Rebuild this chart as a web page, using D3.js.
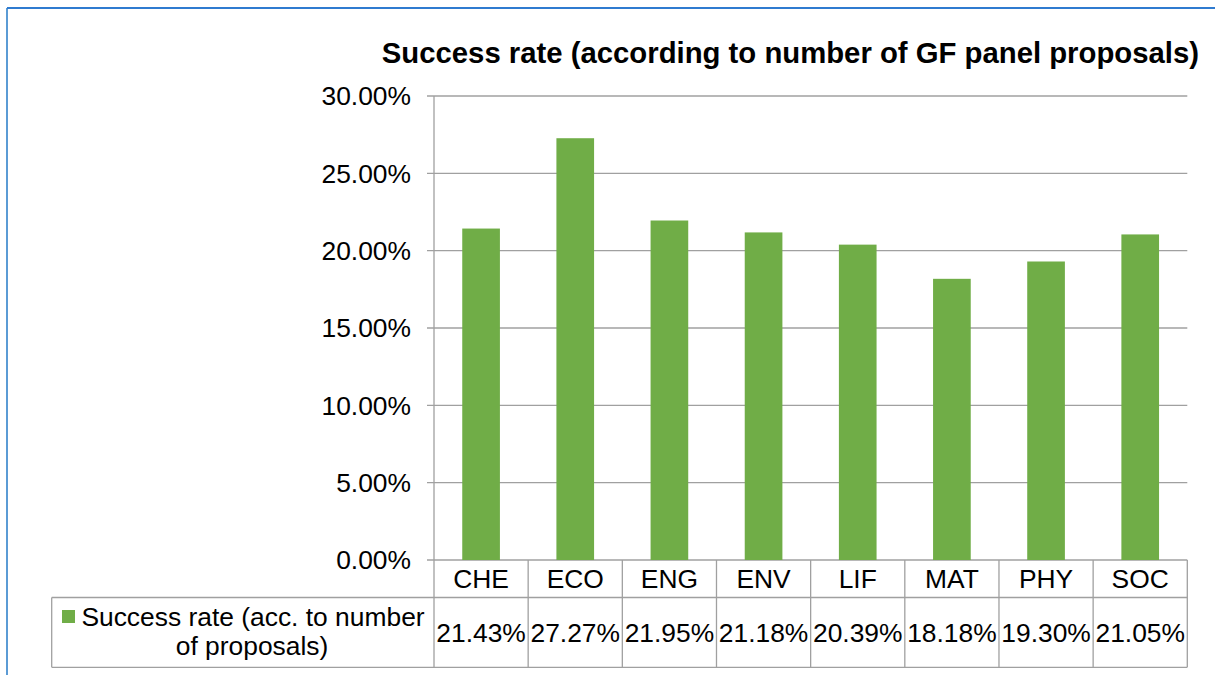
<!DOCTYPE html>
<html><head><meta charset="utf-8">
<script src="https://cdn.jsdelivr.net/npm/d3@7/dist/d3.min.js"></script>
<style>body{margin:0;background:#fff}svg{display:block}text{font-family:"Liberation Sans",Arial,sans-serif}</style>
</head><body>
<svg id="c" width="1215" height="675"></svg>
<script>
const categories = ["CHE","ECO","ENG","ENV","LIF","MAT","PHY","SOC"];
const values = [21.43,27.27,21.95,21.18,20.39,18.18,19.30,21.05];
const valueLabels = ["21.43%","27.27%","21.95%","21.18%","20.39%","18.18%","19.30%","21.05%"];
const yTicks = [0,5,10,15,20,25,30];
const seriesName = ["Success rate (acc. to number","of proposals)"];
const title = "Success rate (according to number of GF panel proposals)";

(function(){
const svg = d3.select("#c");
const W=1215,H=675;
// frame
svg.append("line").attr("x1",7).attr("x2",7).attr("y1",8).attr("y2",H).attr("stroke","#5b9bd5").attr("stroke-width",2);
svg.append("line").attr("x1",7).attr("x2",W).attr("y1",8).attr("y2",8).attr("stroke","#2f7bd0").attr("stroke-width",2);

const pl=434,pr=1187.3,pt=96,pb=560;
const x = d3.scaleBand().domain(categories).range([pl,pr]).paddingInner(0).paddingOuter(0);
const y = d3.scaleLinear().domain([0,30]).range([pb,pt]);
const grid="#a0a0a0";
const fs=26.4;

// title
svg.append("text").attr("x",1199).attr("y",63).attr("text-anchor","end")
  .attr("font-size",29.3).attr("font-weight","bold").attr("fill","#000").text(title);

// gridlines
const g = svg.append("g");
yTicks.forEach(t=>{
  g.append("line").attr("x1",427).attr("x2",pr).attr("y1",y(t)).attr("y2",y(t)).attr("stroke",grid).attr("stroke-width",1.3);
  g.append("text").attr("x",411).attr("y",y(t)).attr("dy","0.35em").attr("text-anchor","end").attr("font-size",fs).attr("fill","#000")
   .text(t.toFixed(2)+"%");
});
// bars
const bw = x.bandwidth()*0.4;
svg.append("g").selectAll("rect").data(values).join("rect")
  .attr("x",(d,i)=>x(categories[i])+x.bandwidth()/2-bw/2)
  .attr("width",bw)
  .attr("y",d=>y(d)).attr("height",d=>y(0)-y(d))
  .attr("fill","#70ad47");
// axis line
svg.append("line").attr("x1",pl).attr("x2",pl).attr("y1",pt).attr("y2",667.3).attr("stroke",grid).attr("stroke-width",1.3);

// table
const r1=560, r2=597.5, r3=667.3;
const t = svg.append("g");
categories.forEach((c,i)=>{
  const x0=x(c), x1=x0+x.bandwidth();
  t.append("line").attr("x1",x1).attr("x2",x1).attr("y1",r1).attr("y2",r3).attr("stroke",grid).attr("stroke-width",1.3);
  t.append("text").attr("x",x0+x.bandwidth()/2).attr("y",(r1+r2)/2).attr("dy","0.36em").attr("text-anchor","middle").attr("font-size",fs).text(c);
  t.append("text").attr("x",x0+x.bandwidth()/2).attr("y",(r2+r3)/2).attr("dy","0.36em").attr("text-anchor","middle").attr("font-size",fs).text(valueLabels[i]);
});
t.append("line").attr("x1",51.7).attr("x2",pr).attr("y1",r2).attr("y2",r2).attr("stroke",grid).attr("stroke-width",1.3);
t.append("line").attr("x1",51.7).attr("x2",pr).attr("y1",r3).attr("y2",r3).attr("stroke",grid).attr("stroke-width",1.3);
t.append("line").attr("x1",51.7).attr("x2",51.7).attr("y1",r2).attr("y2",r3).attr("stroke",grid).attr("stroke-width",1.3);
// legend
t.append("rect").attr("x",62).attr("y",610).attr("width",13).attr("height",13).attr("fill","#70ad47");
t.append("text").attr("x",253).attr("y",617).attr("dy","0.35em").attr("text-anchor","middle").attr("font-size",fs).text(seriesName[0]);
t.append("text").attr("x",252).attr("y",646).attr("dy","0.35em").attr("text-anchor","middle").attr("font-size",fs).text(seriesName[1]);
})();
</script>
</body></html>
